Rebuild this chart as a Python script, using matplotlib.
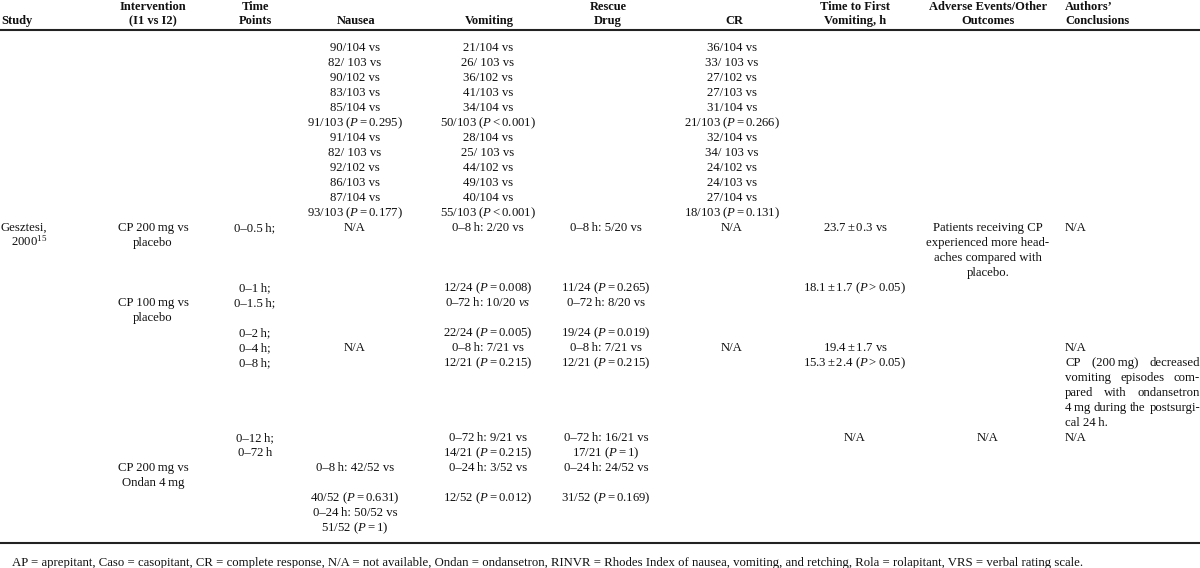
import matplotlib
matplotlib.use("Agg")
import matplotlib.pyplot as plt

plt.rcParams["font.family"] = "Liberation Serif"
plt.rcParams["mathtext.fontset"] = "custom"
plt.rcParams["mathtext.rm"] = "Liberation Serif"
plt.rcParams["mathtext.it"] = "Liberation Serif:italic"
plt.rcParams["mathtext.bf"] = "Liberation Serif:bold"

T = "\u2009"

# header cells: (top line, bottom line)
head_study    = ["", "Study"]
head_interv   = ["Intervention", "(I1 vs I2)"]
head_time     = ["Time", "Points"]
head_nausea   = ["", "Nausea"]
head_vomit    = ["", "Vomiting"]
head_rescue   = ["Rescue", "Drug"]
head_cr       = ["", "CR"]
head_first    = ["Time to First", "Vomiting, h"]
head_adverse  = ["Adverse Events/Other", "Outcomes"]
head_authors  = ["Authors\u2019", "Conclusions"]

# body cells, each column is a list of (row, text)
study = [(12, "Gesztesi,"), (13, "2000$^{15}$")]
interv = [(12, f"CP 200{T}mg vs"), (13, "placebo"),
          (17, f"CP 100{T}mg vs"), (18, "placebo"),
          (28, f"CP 200{T}mg vs"), (29, f"Ondan 4{T}mg")]
time_pts = [(12, f"0\u20130.5{T}h;"), (16, f"0\u20131{T}h;"), (17, f"0\u20131.5{T}h;"),
            (19, f"0\u20132{T}h;"), (20, f"0\u20134{T}h;"), (21, f"0\u20138{T}h;"),
            (26, f"0\u201312{T}h;"), (27, f"0\u201372{T}h")]
nausea_top = ["90/104 vs", "82/ 103 vs", "90/102 vs", "83/103 vs", "85/104 vs",
              r"91/103 ($P=0.295$)", "91/104 vs", "82/ 103 vs", "92/102 vs",
              "86/103 vs", "87/104 vs", r"93/103 ($P=0.177$)"]
nausea = list(enumerate(nausea_top)) + [
    (12, "N/A"), (20, "N/A"), (28, f"0\u20138{T}h: 42/52 vs"),
    (30, r"40/52 ($P=0.631$)"), (31, f"0\u201324{T}h: 50/52 vs"), (32, r"51/52 ($P=1$)")]
vomit_top = ["21/104 vs", "26/ 103 vs", "36/102 vs", "41/103 vs", "34/104 vs",
             r"50/103 ($P<0.001$)", "28/104 vs", "25/ 103 vs", "44/102 vs",
             "49/103 vs", "40/104 vs", r"55/103 ($P<0.001$)"]
vomit = list(enumerate(vomit_top)) + [
    (12, f"0\u20138{T}h: 2/20 vs"), (16, r"12/24 ($P=0.008$)"),
    (17, f"0\u201372{T}h: 10/20 " + r"$vs$"), (19, r"22/24 ($P=0.005$)"),
    (20, f"0\u20138{T}h: 7/21 vs"), (21, r"12/21 ($P=0.215$)"),
    (26, f"0\u201372{T}h: 9/21 vs"), (27, r"14/21 ($P=0.215$)"),
    (28, f"0\u201324{T}h: 3/52 vs"), (30, r"12/52 ($P=0.012$)")]
rescue = [(12, f"0\u20138{T}h: 5/20 vs"), (16, r"11/24 ($P=0.265$)"),
          (17, f"0\u201372{T}h: 8/20 vs"), (19, r"19/24 ($P=0.019$)"),
          (20, f"0\u20138{T}h: 7/21 vs"), (21, r"12/21 ($P=0.215$)"),
          (26, f"0\u201372{T}h: 16/21 vs"), (27, r"17/21 ($P=1$)"),
          (28, f"0\u201324{T}h: 24/52 vs"), (30, r"31/52 ($P=0.169$)")]
cr_top = ["36/104 vs", "33/ 103 vs", "27/102 vs", "27/103 vs", "31/104 vs",
          r"21/103 ($P=0.266$)", "32/104 vs", "34/ 103 vs", "24/102 vs",
          "24/103 vs", "27/104 vs", r"18/103 ($P=0.131$)"]
cr = list(enumerate(cr_top)) + [(12, "N/A"), (20, "N/A")]
first = [(12, r"$23.7\pm0.3$ vs"), (16, r"$18.1\pm1.7$ ($P>0.05$)"),
         (20, r"$19.4\pm1.7$ vs"), (21, r"$15.3\pm2.4$ ($P>0.05$)"), (26, "N/A")]
adverse = [(12, "Patients receiving CP"), (13, "experienced more head-"),
           (14, "aches compared with"), (15, "placebo."), (26, "N/A")]
authors = [(12, "N/A"), (20, "N/A"), (26, "N/A")]
authors_par = [f"CP (200{T}mg) decreased", "vomiting episodes com-",
               "pared with ondansetron", f"4{T}mg during the postsurgi-"]
authors_last = f"cal 24{T}h."
footnote = ("AP = aprepitant, Caso = casopitant, CR = complete response, N/A = not available, "
            "Ondan = ondansetron, RINVR = Rhodes Index of nausea, vomiting, and retching, "
            "Rola = rolapitant, VRS = verbal rating scale.")

fig = plt.figure(figsize=(12, 5.68), dpi=100)
ax = fig.add_axes([0, 0, 1, 1])
ax.set_xlim(0, 1200)
ax.set_ylim(568, 0)
ax.axis("off")

fs = 9.2
row0, pitch, base = 47, 15, 4


def rowy(r):
    return row0 + pitch * r + base


heads = [(head_study, 1, "left"), (head_interv, 153, "center"), (head_time, 255, "center"),
         (head_nausea, 356, "center"), (head_vomit, 489, "center"), (head_rescue, 608, "center"),
         (head_cr, 734, "center"), (head_first, 855, "center"), (head_adverse, 988, "center"),
         (head_authors, 1065, "left")]
for lines, x, ha in heads:
    for y, s in zip([10, 24], lines):
        ax.text(x, y, s, ha=ha, va="baseline", fontsize=9, fontweight="bold", color="#111")

ax.plot([0, 1200], [30, 30], color="#222", lw=1.5, solid_capstyle="butt")
ax.plot([0, 1200], [543, 543], color="#222", lw=1.5, solid_capstyle="butt")

cols = [(study, 47, "right"), (interv, 153, "center"), (time_pts, 255, "center"),
        (nausea, 355, "center"), (vomit, 488, "center"), (rescue, 606, "center"),
        (cr, 732, "center"), (first, 855, "center"), (adverse, 988, "center"),
        (authors, 1065, "left")]
for cells, x, ha in cols:
    for r, s in cells:
        ax.text(x, rowy(r), s, ha=ha, va="baseline", fontsize=fs, color="#111")

# justified paragraph in the last column
renderer = fig.canvas.get_renderer()
x0, x1 = 1065, 1200
for i, line in enumerate(authors_par):
    words = line.split(" ")
    texts = [ax.text(0, rowy(21 + i), w, ha="left", va="baseline", fontsize=fs, color="#111")
             for w in words]
    widths = [t.get_window_extent(renderer).width for t in texts]
    gap = (x1 - x0 - sum(widths)) / (len(words) - 1)
    x = x0
    for t, w in zip(texts, widths):
        t.set_x(x)
        x += w + gap
ax.text(x0, rowy(25), authors_last, ha="left", va="baseline", fontsize=fs, color="#111")

ax.text(12, 566, footnote, ha="left", va="baseline", fontsize=9.2, color="#111")

fig.savefig("out.png", dpi=100)
